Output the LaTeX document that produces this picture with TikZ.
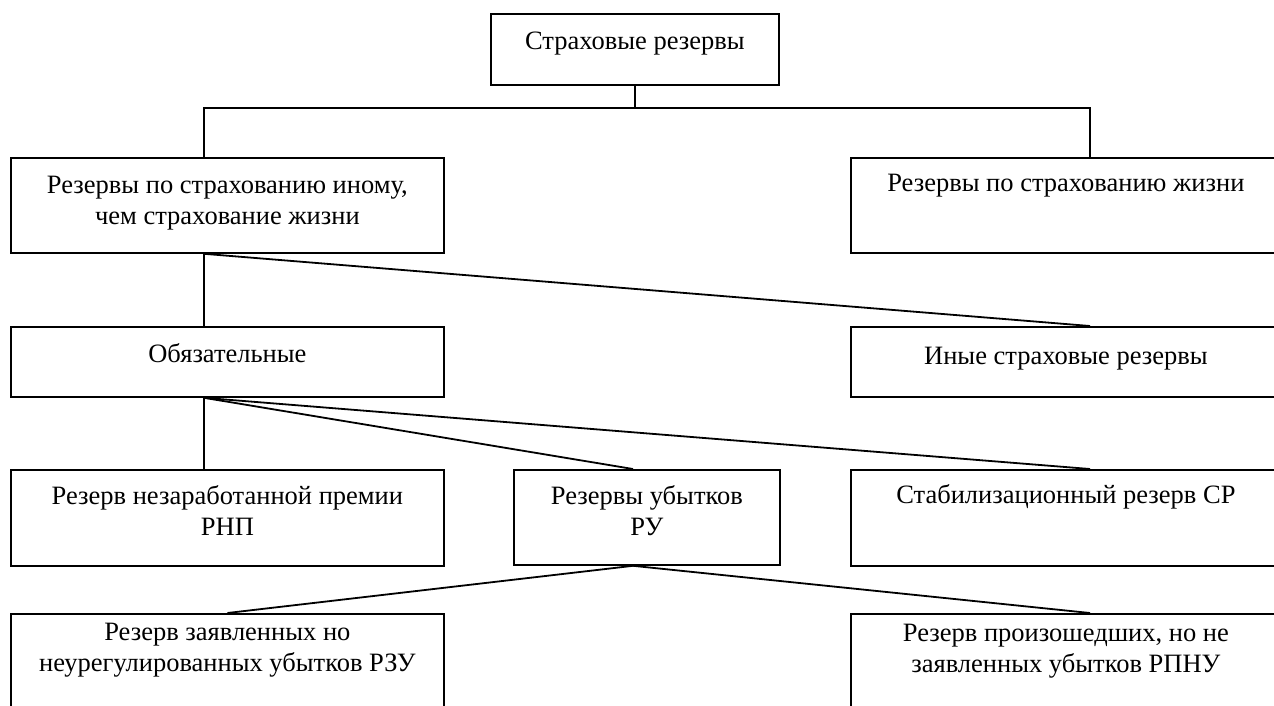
\documentclass[tikz,border=0pt]{standalone}
\usepackage{fontspec}
\setmainfont{Liberation Serif}
% fixed-size box text: width, height, first baseline, content
\newcommand\bxtext[4]{\parbox[c][#2pt][t]{#1pt}{\centering\fontsize{26.5}{31}\selectfont\rule{0pt}{#3pt}#4}}
\tikzset{
  box/.style={draw, line width=1.8pt, inner sep=0pt, anchor=north west},
  link/.style={line width=1.8pt}
}
\begin{document}
\begin{tikzpicture}[x=1pt, y=-1pt]
\useasboundingbox (0,0) rectangle (1274,705);
\clip (0,0) rectangle (1274,705);
% boxes
\node[box] (top) at (490,13)  {\bxtext{288}{71}{36}{Страховые резервы}};
\node[box] (l1)  at (10,157)  {\bxtext{433}{95}{36}{Резервы по страхованию иному,\\ чем страхование жизни}};
\node[box] (r1)  at (850,157) {\bxtext{430}{95}{34}{Резервы по страхованию жизни}};
\node[box] (l2)  at (10,326)  {\bxtext{433}{70}{36}{Обязательные}};
\node[box] (r2)  at (850,326) {\bxtext{430}{70}{38}{Иные страховые резервы}};
\node[box] (l3)  at (10,469)  {\bxtext{433}{96}{35}{Резерв незаработанной премии\\ РНП}};
\node[box] (ru)  at (513,469) {\bxtext{266}{95}{35}{Резервы убытков\\ РУ}};
\node[box] (cp)  at (850,469) {\bxtext{430}{96}{34}{Стабилизационный резерв СР}};
\node[box] (l4)  at (10,613)  {\bxtext{433}{150}{27}{Резерв заявленных но\\ неурегулированных убытков РЗУ}};
\node[box] (r4)  at (850,613) {\bxtext{430}{150}{28}{Резерв произошедших, но не\\ заявленных убытков РПНУ}};
% connector attachment points on the box edges
\coordinate (bus) at (634,108);
\coordinate (l1s) at ([xshift=194pt]l1.south west);
\coordinate (l2s) at ([xshift=194pt]l2.south west);
\coordinate (rus) at ([xshift=120pt]ru.south west);
\draw[link] (top.south) -- (top.south |- bus);
\draw[link] ([xshift=194pt]l1.north west) |- (bus) -| ([xshift=240pt]r1.north west);
\draw[link] (l1s) -- ([xshift=194pt]l2.north west);
\draw[link] (l1s) -- ([xshift=240pt]r2.north west);
\draw[link] (l2s) -- (l2s |- l3.north);
\draw[link] (l2s) -- ([xshift=120pt]ru.north west);
\draw[link] (l2s) -- ([xshift=240pt]cp.north west);
\draw[link] (rus) -- (l4.north);
\draw[link] (rus) -- ([xshift=240pt]r4.north west);
\end{tikzpicture}
\end{document}
